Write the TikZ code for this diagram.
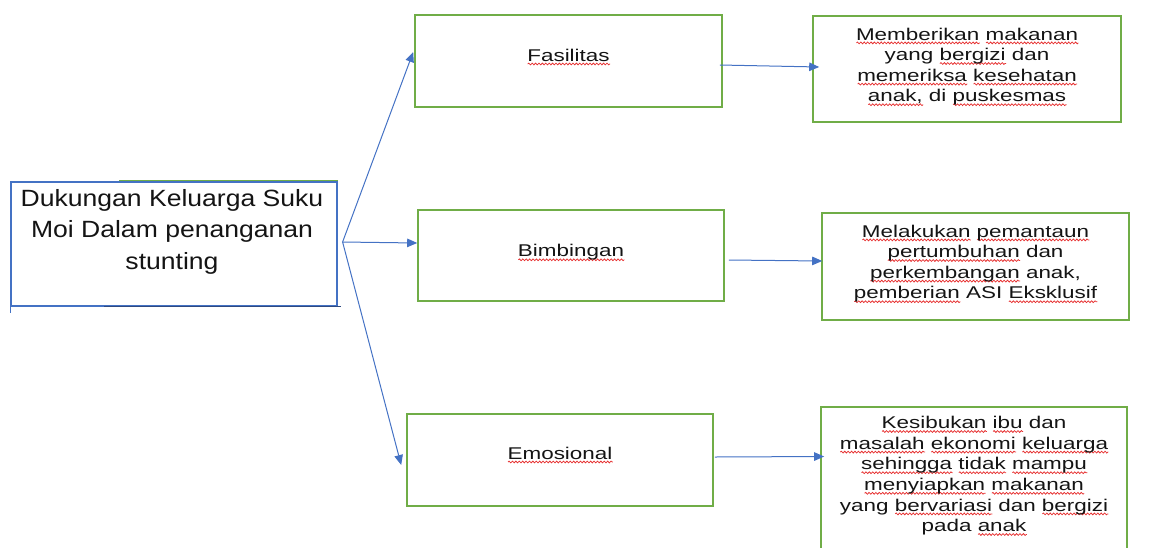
\documentclass[tikz,border=0pt]{standalone}
\usepackage{fontspec}
\usetikzlibrary{arrows.meta,calc,decorations.pathmorphing}
\setmainfont{Liberation Sans}
\newfontfamily\headfont[FakeStretch=1.13]{Liberation Sans}
\newfontfamily\boxfont[FakeStretch=1.32]{Liberation Sans}
\definecolor{boxgreen}{HTML}{70AD47}
\definecolor{linkblue}{HTML}{4472C4}
\definecolor{edgedark}{HTML}{2F4A80}
\definecolor{spell}{HTML}{E63030}
\definecolor{ink}{HTML}{141414}
% red wavy underline for flagged words
\newsavebox\sqbox
\newlength\sqwd
\newcommand\sq[1]{\sbox\sqbox{#1}\setlength\sqwd{\wd\sqbox}%
  \rlap{\smash{\tikz[baseline=0pt,x=1pt,y=1pt]\draw[spell,line width=0.75pt,decorate,
     decoration={snake,amplitude=0.9pt,segment length=3.4pt}] (0,-2.9) -- (\sqwd,-2.9);}}%
  \usebox\sqbox}

\begin{document}
\begin{tikzpicture}[x=1pt,y=-1pt,
  gbox/.style={draw=boxgreen,line width=1.6pt,inner sep=0pt},
  link/.style={draw=linkblue,line width=1pt,-{Triangle[length=10pt,width=8.5pt]}},
  midtxt/.style={font=\boxfont\fontsize{17}{20.6}\selectfont,text=ink,inner sep=0pt},
  sidetxt/.style={align=center,font=\boxfont\fontsize{17}{20.6}\selectfont,text=ink,inner sep=0pt},
]
\useasboundingbox (0,0) rectangle (1167,547);
\clip (0,0) rectangle (1167,547);

% main box on the left
\node[draw=linkblue,line width=1.2pt,minimum width=326pt,minimum height=124pt,inner sep=0pt] (L) at (174,244) {};
\draw[boxgreen,line width=1.4pt] ($(L.north west)+(109,-1)$) -- ($(L.north east)+(0,-1)$);
\draw[linkblue,line width=1.2pt] (L.south west) -- ++(0,6);
\draw[edgedark,line width=1.2pt] ($(L.south west)+(94,0)$) -- ($(L.south east)+(3,0)$);
\node[align=center,inner sep=0pt,text=ink,font=\headfont\fontsize{23.5}{31.5}\selectfont] (Lt) at ($(L)+(-2,-12.5)$)
  {Dukungan Keluarga Suku\\Moi Dalam penanganan\\stunting};

% middle column
\node[gbox,minimum width=307pt,minimum height=92pt] (F) at (568.5,61) {};
\node[gbox,minimum width=306pt,minimum height=91pt] (B) at (571,255.5) {};
\node[gbox,minimum width=306pt,minimum height=92pt] (E) at (560,460) {};
\node[midtxt] (Ft) at ($(F)+(0,-6)$) {\sq{Fasilitas}};
\node[midtxt] (Bt) at ($(B)+(0,-3)$) {\sq{Bimbingan}};
\node[midtxt] (Et) at ($(E)+(0,-7)$) {\sq{Emosional}};

% right column
\node[gbox,minimum width=308pt,minimum height=106pt] (R1) at (967,69) {};
\node[gbox,minimum width=307pt,minimum height=107pt] (R2) at (975.5,266.5) {};
\node[gbox,minimum width=306pt,minimum height=163pt] (R3) at (974,488.5) {};
\node[sidetxt] (R1t) at ($(R1)+(0,-2.5)$)
  {\sq{Memberikan} \sq{makanan}\\yang \sq{bergizi} dan\\\sq{memeriksa} \sq{kesehatan}\\\sq{anak,} di \sq{puskesmas}};
\node[sidetxt] (R2t) at ($(R2)+(0,-3)$)
  {\sq{Melakukan} \sq{pemantaun}\\\sq{pertumbuhan} dan\\\sq{perkembangan} anak,\\\sq{pemberian} ASI \sq{Eksklusif}};
\node[sidetxt] (R3t) at ($(R3.north)+(0,69.5)$)
  {\sq{Kesibukan} \sq{ibu} dan\\\sq{masalah} \sq{ekonomi} \sq{keluarga}\\\sq{sehingga} \sq{tidak} \sq{mampu}\\\sq{menyiapkan} \sq{makanan}\\yang \sq{bervariasi} dan \sq{bergizi}\\pada \sq{anak}};

% connectors
\coordinate (src) at ($(L.east)+(5,-2)$);
\draw[link] (src) -- ($(F.west)+(-1,-9)$);
\draw[link] (src) -- ($(B.west)+(0,-12.5)$);
\draw[link] (src) -- ($(E.west)+(-5,5)$);
\draw[link] ($(F.east)+(-3,4)$) -- ($(R1.west)+(7,-2)$);
\draw[link] ($(B.east)+(4,4.5)$) -- ($(R2.west)+(1,-5.5)$);
\draw[link] ($(E.east)+(1,-3)$) -- ($(R3.west)+(4,-32)$);
\end{tikzpicture}
\end{document}
